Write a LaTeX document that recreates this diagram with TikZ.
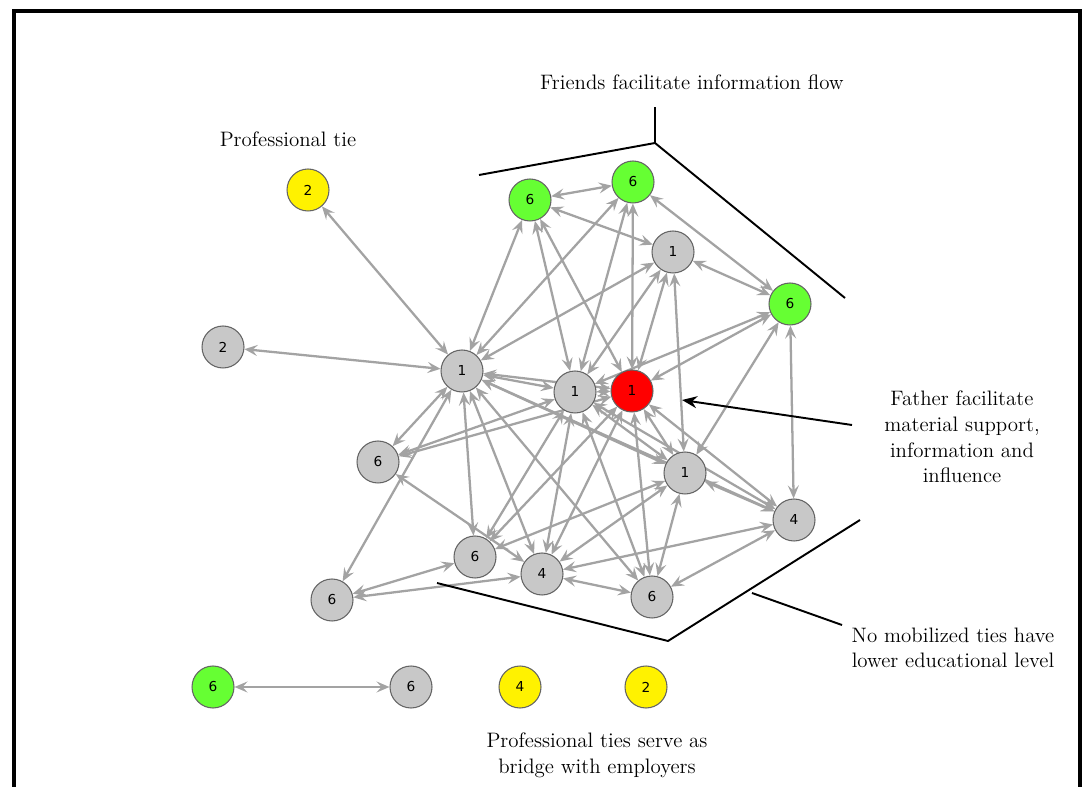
\documentclass[tikz,border=0pt]{standalone}
\usepackage{fontspec}
\usetikzlibrary{arrows.meta,backgrounds}
\newfontfamily\nodefont{DejaVu Sans}
\definecolor{tiegray}{RGB}{163,163,163}
\definecolor{kingray}{RGB}{200,200,200}
\definecolor{friendgreen}{RGB}{102,255,51}
\definecolor{rimgray}{RGB}{100,100,100}
\tikzset{
	% ------- every something
	every picture/.style={
		x=0.02cm, y=-0.02cm,
	},
	every node/.style={
		font=\fontsize{11.9}{14.6}\selectfont,
	},
	% ------- custom
	person/.style={
		circle, draw=rimgray, line width=0.6pt,
		minimum size=0.84cm, inner sep=0pt,
		font=\nodefont\fontsize{7.8}{8}\selectfont,
	},
	kin/.style={person, fill=kingray},
	friend/.style={person, fill=friendgreen},
	prof/.style={person, fill=yellow},
	father/.style={person, fill=red},
	tie/.style={
		{Stealth[length=2.6mm,width=2.2mm,inset=1mm]}-{Stealth[length=2.6mm,width=2.2mm,inset=1mm]},
		draw=tiegray, line width=1.3pt,
	},
	bracket/.style={
		line width=1.1pt, black,
	},
	pointer/.style={
		line width=1.1pt, black,
		-{Stealth[length=3mm,width=2.4mm]},
	},
	remark/.style={
		align=center,
	},
}

\begin{document}
\begin{tikzpicture}

\useasboundingbox (0,0) rectangle (1090,787);

% frame %{{{1

	\draw[line width=0.09cm] (14,787) -- (14,11) -- (1080,11) -- (1080,787);

% people %{{{1

	\node[prof]   (pro1) at (308,190) {2};
	\node[friend] (fr1)  at (530,200) {6};
	\node[friend] (fr2)  at (633,182) {6};
	\node[kin]    (k1a)  at (673,252) {1};
	\node[friend] (fr3)  at (790,304) {6};
	\node[kin]    (k2)   at (223,347) {2};
	\node[kin]    (k1b)  at (462,371) {1};
	\node[kin]    (k1c)  at (575,392) {1};
	\node[father] (ego)  at (632,391) {1};
	\node[kin]    (k6a)  at (378,462) {6};
	\node[kin]    (k1d)  at (685,473) {1};
	\node[kin]    (k4a)  at (794,520) {4};
	\node[kin]    (k6b)  at (475,557) {6};
	\node[kin]    (k4b)  at (542,574) {4};
	\node[kin]    (k6c)  at (332,600) {6};
	\node[kin]    (k6d)  at (652,597) {6};

	\node[friend] (fr4)  at (213,687) {6};
	\node[kin]    (k6e)  at (411,687) {6};
	\node[prof]   (pro2) at (520,687) {4};
	\node[prof]   (pro3) at (646,687) {2};

% ties %{{{1

	\begin{scope}[on background layer]
	\foreach \a/\b in {pro1/k1b, k2/k1b, fr1/fr2, fr1/k1b, fr2/k1b, k1a/k1b,
		fr1/k1c, fr1/ego, fr2/k1c, fr2/ego, k1a/fr1, k1a/k1c, k1a/ego,
		k1a/k1d, k1a/fr3, fr2/fr3, fr3/ego, fr3/k1c, fr3/k1d, fr3/k4a,
		k1b/k1c, k1b/ego, k1b/k6a, k1b/k6c, k1b/k6b, k1b/k4b, k1b/k6d,
		k1b/k1d, k1b/k4a, k6a/k1c, k6a/ego, k6a/k4b, k1c/k6b, ego/k6b,
		k1c/k4b, ego/k4b, k1d/k6b, k1d/k4b, k4a/k4b, k4b/k6d, k6c/k6b,
		k6c/k4b, k1d/k6d, k4a/k6d, k1c/k6d, ego/k6d, k1c/ego, k1c/k1d,
		ego/k1d, k1d/k4a, k1c/k4a, ego/k4a, fr4/k6e}
		\draw[tie] (\a) -- (\b);
	\end{scope}

% brackets %{{{1

	\coordinate (top left)   at (479,175);
	\coordinate (top apex)   at (655,143);
	\coordinate (top tick)   at (655,107);
	\coordinate (top right)  at (845,298);

	\draw[bracket] (top left) -- (top apex) -- (top right);
	\draw[bracket] (top apex) -- (top tick);

	\coordinate (low left)   at (437,583);
	\coordinate (low apex)   at (668,641);
	\coordinate (low right)  at (860,520);
	\coordinate (low tick)   at (752,593);
	\coordinate (low end)    at (842,625);

	\draw[bracket] (low left) -- (low apex) -- (low right);
	\draw[bracket] (low tick) -- (low end);

% remarks %{{{1

	\node[remark] (friends) at (692,82) {Friends facilitate information flow};
	\node[remark] (proftie) at (288,139) {Professional tie};
	\node[remark] (fathers) at (962,437) {Father facilitate\\material support,\\information and\\influence};
	\node[remark] (lowedu)  at (953,648) {No mobilized ties have\\lower educational level};
	\node[remark] (bridge)  at (597,755) {Professional ties serve as\\bridge with employers};

	\coordinate (father tip) at (682,400);
	\draw[pointer] (852,425) -- (father tip);

\end{tikzpicture}
\end{document}
